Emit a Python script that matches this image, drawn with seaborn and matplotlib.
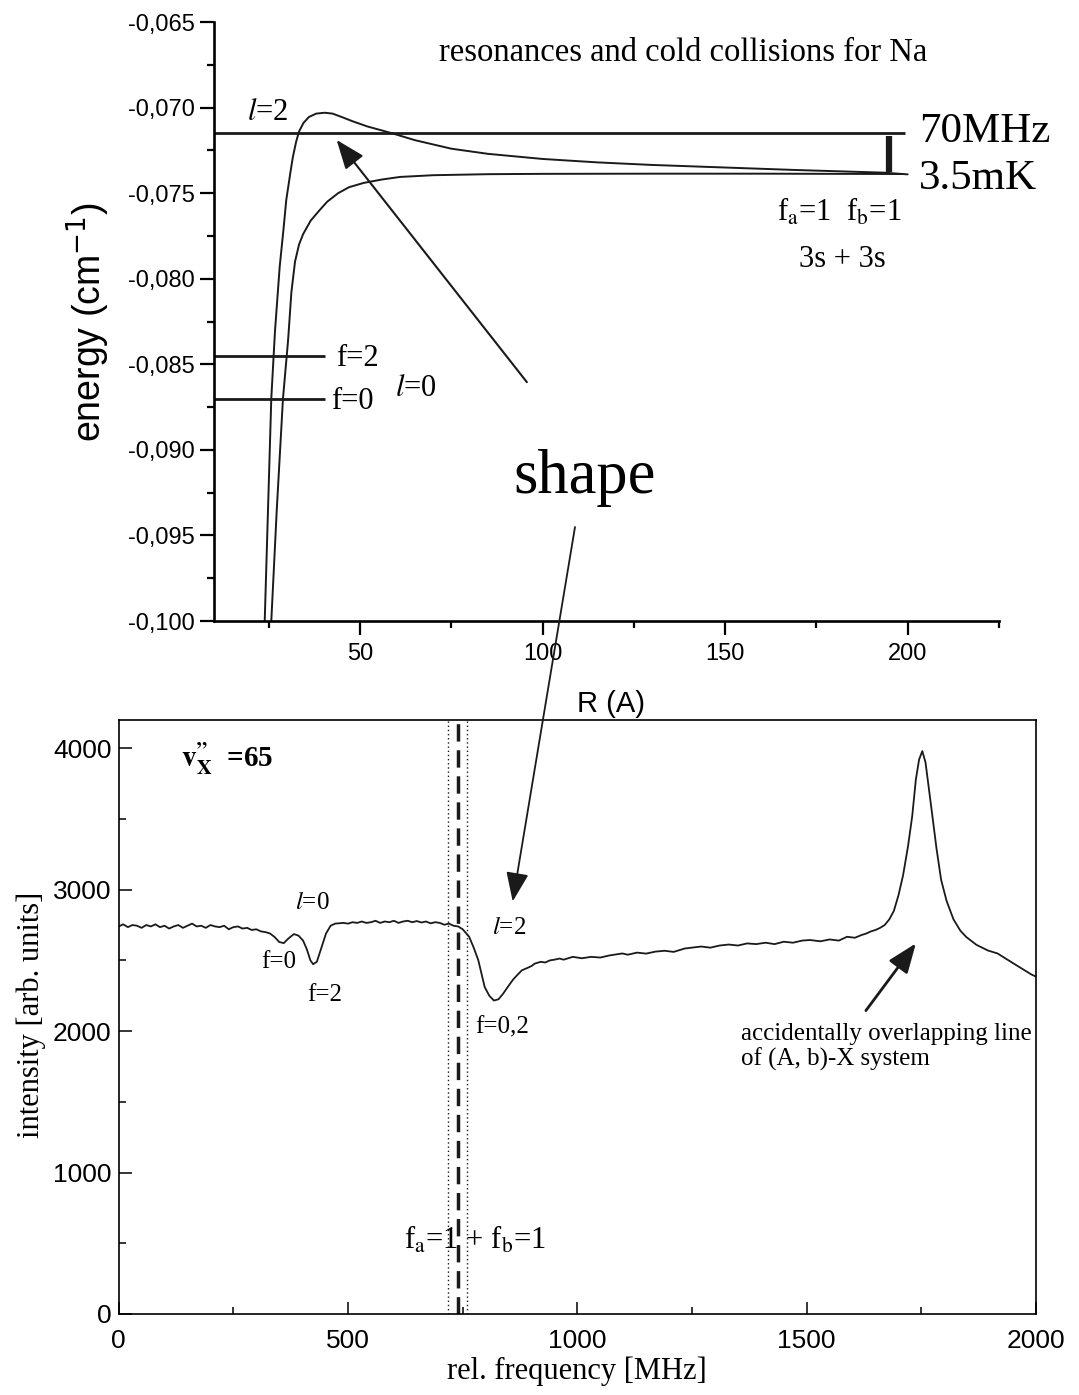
import matplotlib
matplotlib.use('Agg')
import matplotlib.pyplot as plt
import seaborn as sns
from matplotlib.ticker import MultipleLocator, FuncFormatter

# ---------------- top panel data (R in Angstrom, energy in cm^-1) ----------------
R_l2 = [23.9, 24.8, 25.7, 26.7, 28.0, 29.0, 29.8, 31.0, 31.6, 32.5, 33.3, 34.5, 36.0, 38.0, 40.3,
        42.5, 45.0, 48.0, 52.0, 58.8, 65.0, 75.0, 85.0, 100.0, 115.0, 130.0, 150.0, 170.0, 193.5,
        200.0]
E_l2 = [-0.1000, -0.0935, -0.0870, -0.0831, -0.0793, -0.0772, -0.0754, -0.0737, -0.0729, -0.0720,
        -0.0714, -0.0709, -0.07055, -0.07035, -0.0703, -0.07035, -0.07055, -0.0708, -0.0711,
        -0.0715, -0.0719, -0.0724, -0.0727, -0.0730, -0.0732, -0.07335, -0.0735, -0.07365,
        -0.0738, -0.0739]
R_l0 = [25.7, 27.2, 28.9, 30.3, 31.2, 32.2, 33.3, 34.4, 36.5, 38.9, 41.0, 44.0, 47.0, 51.0, 56.0,
        61.0, 70.0, 85.0, 100.0, 130.0, 160.0, 198.5]
E_l0 = [-0.1000, -0.0935, -0.0870, -0.0836, -0.0808, -0.0790, -0.0780, -0.0774, -0.0766, -0.0760,
        -0.0755, -0.0750, -0.07465, -0.0744, -0.0742, -0.07405, -0.07395, -0.07389, -0.07387,
        -0.07386, -0.07386, -0.07388]
level_E = [-0.0715, -0.08452, -0.08703]      # l=2 resonance, f=2, f=0 bound levels
level_Rmax = [199.3, 40.3, 40.3]
gap_R = 194.8
gap_E = [-0.07165, -0.07375]

# ---------------- bottom panel data ----------------
freq = [0, 10, 20, 30, 40, 50, 60, 70, 80, 90,
        100, 110, 120, 130, 140, 150, 160, 170, 180, 190,
        200, 210, 220, 230, 240, 250, 260, 270, 280, 290,
        300, 310, 320, 330, 340, 350, 360, 370, 382, 392,
        402, 410, 418, 424, 432, 442, 452, 462, 472, 490,
        500, 510, 520, 530, 540, 550, 560, 570, 580, 590,
        600, 610, 620, 630, 640, 650, 660, 670, 680, 690,
        700, 710, 720, 730, 740, 750, 764, 774, 784, 798,
        808, 818, 828, 838, 850, 860, 870, 879, 890, 900,
        907, 920, 930, 940, 950, 961, 970, 980, 990, 1010,
        1030, 1050, 1070, 1098, 1110, 1130, 1150, 1170, 1190, 1210,
        1234, 1250, 1270, 1290, 1310, 1330, 1350, 1370, 1390, 1410,
        1430, 1450, 1470, 1490, 1507, 1530, 1550, 1570, 1588, 1605,
        1620, 1630, 1640, 1650, 1660, 1670, 1680, 1690, 1700, 1710,
        1721, 1730, 1738, 1745, 1752, 1759, 1766, 1773, 1783, 1793,
        1805, 1820, 1835, 1848, 1870, 1895, 1916, 1935, 1950, 1965,
        1980, 1990, 2000]
intensity = [2740, 2755, 2735, 2750, 2745, 2730, 2750, 2740, 2755, 2735,
             2745, 2725, 2740, 2750, 2730, 2745, 2760, 2740, 2745, 2730,
             2750, 2740, 2735, 2745, 2720, 2735, 2740, 2725, 2730, 2715,
             2720, 2705, 2700, 2690, 2665, 2630, 2622, 2655, 2686, 2675,
             2640, 2580, 2500, 2473, 2490, 2590, 2690, 2745, 2760, 2765,
             2760, 2770, 2765, 2775, 2765, 2770, 2780, 2765, 2775, 2770,
             2780, 2765, 2775, 2780, 2770, 2778, 2768, 2775, 2762, 2770,
             2765, 2752, 2760, 2745, 2740, 2720, 2667, 2590, 2501, 2311,
             2250, 2216, 2225, 2264, 2320, 2365, 2400, 2430, 2445, 2460,
             2477, 2490, 2485, 2500, 2505, 2513, 2505, 2515, 2525, 2515,
             2525, 2520, 2535, 2549, 2540, 2555, 2548, 2562, 2568, 2560,
             2584, 2590, 2598, 2590, 2605, 2612, 2605, 2620, 2615, 2625,
             2615, 2632, 2625, 2640, 2644, 2635, 2648, 2640, 2667, 2660,
             2680, 2690, 2705, 2715, 2730, 2750, 2790, 2850, 2960, 3100,
             3310, 3520, 3780, 3920, 3980, 3900, 3720, 3546, 3290, 3070,
             2920, 2790, 2710, 2665, 2610, 2570, 2549, 2510, 2480, 2450,
             2420, 2400, 2385]
dotted_x = [718, 759]
dashed_x = [739]

# ---------------- style ----------------
sns.set_theme(style='ticks', rc={'axes.edgecolor': 'black', 'xtick.color': 'black',
                                 'ytick.color': 'black', 'text.color': 'black',
                                 'axes.labelcolor': 'black'})
plt.rcParams['font.family'] = ['Liberation Sans', 'DejaVu Sans']
plt.rcParams['mathtext.fontset'] = 'stix'
SERIF = ['Liberation Serif', 'DejaVu Serif']
SANS = ['Liberation Sans', 'DejaVu Sans']

fig = plt.figure(figsize=(10.79, 13.95), dpi=100)
ax1 = fig.add_axes([0.1983, 0.5548, 0.7275, 0.4294])
ax2 = fig.add_axes([0.1100, 0.0581, 0.8502, 0.4258])

# ================= top panel =================
sns.lineplot(x=R_l2, y=E_l2, ax=ax1, color='k', lw=1.4, estimator=None, sort=False)
sns.lineplot(x=R_l0, y=E_l0, ax=ax1, color='k', lw=1.4, estimator=None, sort=False)
for e, rmax in zip(level_E, level_Rmax):
    ax1.hlines(e, 10, rmax, color='k', lw=2.0)
ax1.vlines(gap_R, gap_E[0], gap_E[1], color='k', lw=4.5)

ax1.set_xlim(10, 225)
ax1.set_ylim(-0.100, -0.065)
for s in ['top', 'right']:
    ax1.spines[s].set_visible(False)
for s in ['left', 'bottom']:
    ax1.spines[s].set_linewidth(1.9)
ax1.xaxis.set_major_locator(MultipleLocator(50))
ax1.xaxis.set_minor_locator(MultipleLocator(25))
ax1.yaxis.set_major_locator(MultipleLocator(0.005))
ax1.yaxis.set_minor_locator(MultipleLocator(0.0025))
ax1.yaxis.set_major_formatter(FuncFormatter(lambda v, p: f"{v:.3f}".replace('.', ',')))
ax1.tick_params(which='major', direction='out', length=10, width=1.6, labelsize=17, pad=4)
ax1.tick_params(which='minor', direction='out', length=5, width=1.6)
ax1.tick_params(axis='x', which='major', pad=6)
for lab in ax1.get_xticklabels() + ax1.get_yticklabels():
    lab.set_family(SANS)
ax1.set_xlabel('R (A)', fontsize=21, family=SANS)
ax1.set_ylabel('energy (cm$^{-1}$)', fontsize=27, family=SANS, math_fontfamily='dejavusans')
ax1.xaxis.set_label_coords(0.506, -0.115)
ax1.yaxis.set_label_coords(-0.13, 0.5)

ax1.text(138.5, -0.06678, 'resonances and cold collisions for Na', fontsize=23.5,
         family=SERIF, ha='center', va='center')
ax1.text(24.7, -0.07026, '$l$=2', fontsize=22, family=SERIF, ha='center', va='center',
         math_fontfamily='stix')
ax1.text(43.5, -0.08463, 'f=2', fontsize=22, family=SERIF, ha='left', va='center')
ax1.text(42.1, -0.08720, 'f=0', fontsize=22, family=SERIF, ha='left', va='center')
ax1.text(65.3, -0.08639, '$l$=0', fontsize=22, family=SERIF, ha='center', va='center',
         math_fontfamily='stix')
ax1.text(203.1, -0.07140, '70MHz', fontsize=31, family=SERIF, ha='left', va='center')
ax1.text(203.1, -0.07415, '3.5mK', fontsize=31, family=SERIF, ha='left', va='center')
ax1.text(181.2, -0.07610, r'f$_{\rm a}$=1  f$_{\rm b}$=1', fontsize=22, family=SERIF,
         ha='center', va='center', math_fontfamily='stix')
ax1.text(182.1, -0.07885, '3s + 3s', fontsize=22, family=SERIF, ha='center', va='center')
ax1.annotate('', xy=(43.6, -0.07189), xytext=(95.7, -0.08604),
             arrowprops=dict(arrowstyle='-|>,head_length=0.9,head_width=0.35',
                             mutation_scale=20, lw=1.5, color='k', shrinkA=0, shrinkB=0))

# ================= bottom panel =================
sns.lineplot(x=freq, y=intensity, ax=ax2, color='k', lw=1.3, estimator=None, sort=False)
for xv in dotted_x:
    ax2.axvline(xv, color='k', lw=1.0, ls=(0, (1, 2)))
for xv in dashed_x:
    ax2.axvline(xv, color='k', lw=2.5, ls=(0, (5, 2.5)))

ax2.set_xlim(0, 2000)
ax2.set_ylim(0, 4200)
for s in ax2.spines.values():
    s.set_linewidth(1.2)
ax2.xaxis.set_major_locator(MultipleLocator(500))
ax2.xaxis.set_minor_locator(MultipleLocator(250))
ax2.yaxis.set_major_locator(MultipleLocator(1000))
ax2.yaxis.set_minor_locator(MultipleLocator(500))
ax2.tick_params(which='major', direction='in', length=9, width=1.1, labelsize=19)
ax2.tick_params(which='minor', direction='in', length=5, width=1.1)
ax2.tick_params(axis='x', which='major', pad=11)
ax2.tick_params(axis='y', which='major', pad=5)
for lab in ax2.get_xticklabels() + ax2.get_yticklabels():
    lab.set_family(SANS)
ax2.set_xlabel('rel. frequency [MHz]', fontsize=22, family=SERIF)
ax2.set_ylabel('intensity [arb. units]', fontsize=22, family=SERIF)
ax2.xaxis.set_label_coords(0.4996, -0.072)
ax2.yaxis.set_label_coords(-0.079, 0.503)

vx_label = "$\\mathbf{v}_{\\mathbf{X}}^{\\mathbf{\u201d}}$  =65"
ax2.text(136, 3926, vx_label, fontsize=21, family=SERIF, weight='bold',
         ha='left', va='center', math_fontfamily='stix')
ax2.text(423, 2905, '$l$=0', fontsize=18, family=SERIF, ha='center', va='center',
         math_fontfamily='stix')
ax2.text(348, 2489, 'f=0', fontsize=18, family=SERIF, ha='center', va='center')
ax2.text(450, 2252, 'f=2', fontsize=18, family=SERIF, ha='center', va='center')
ax2.text(852, 2727, '$l$=2', fontsize=18, family=SERIF, ha='center', va='center',
         math_fontfamily='stix')
ax2.text(777, 2026, 'f=0,2', fontsize=18, family=SERIF, ha='left', va='center')
ax2.text(1357, 1890, 'accidentally overlapping line\nof (A, b)-X system', fontsize=18,
         family=SERIF, ha='left', va='center', linespacing=1.15)
ax2.text(777, 523, r'f$_{\rm a}$=1 + f$_{\rm b}$=1', fontsize=22, family=SERIF,
         ha='center', va='center', math_fontfamily='stix')
ax2.annotate('', xy=(1738, 2620), xytext=(1629, 2145),
             arrowprops=dict(arrowstyle='-|>,head_length=0.9,head_width=0.35',
                             mutation_scale=20, lw=2.0, color='k', shrinkA=0, shrinkB=0))

# "shape" label linking the two panels
fig.text(0.5422, 0.6575, 'shape', fontsize=45, family=SERIF, ha='center', va='center')
ax2.annotate('', xy=(859, 2917), xycoords='data',
             xytext=(0.5329, 0.6222), textcoords='figure fraction',
             arrowprops=dict(arrowstyle='-|>,head_length=0.9,head_width=0.35',
                             mutation_scale=20, lw=1.3, color='k', shrinkA=0, shrinkB=0),
             annotation_clip=False)

fig.savefig('out.png', dpi=100)
